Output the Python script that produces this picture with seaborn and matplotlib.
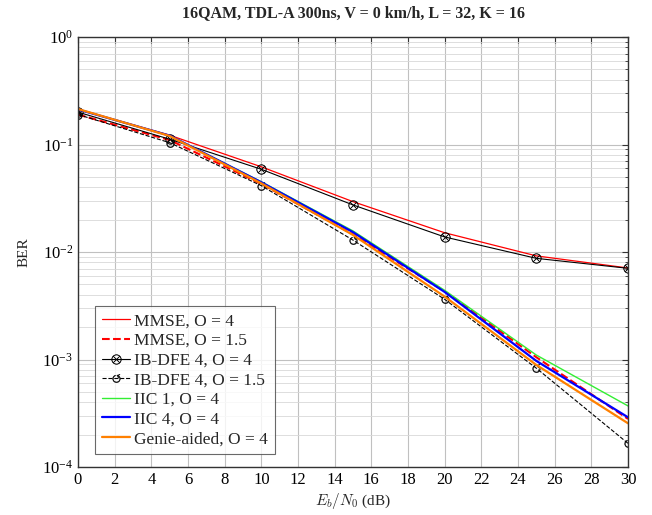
import matplotlib
matplotlib.use("Agg")
import matplotlib.pyplot as plt
import seaborn as sns
import numpy as np
from matplotlib.ticker import LogLocator, MultipleLocator, NullFormatter

snr = [0, 5, 10, 15, 20, 25, 30]
mmse_o4 = [0.212, 0.122, 0.062, 0.0294, 0.0151, 0.0092, 0.0071]
mmse_o15 = [0.19, 0.110, 0.043, 0.0146, 0.0043, 0.00105, 0.00028]
ibdfe_o4 = [0.200, 0.112, 0.0588, 0.0274, 0.0138, 0.00873, 0.00705]
ibdfe_o15 = [0.190, 0.104, 0.0414, 0.0129, 0.00363, 0.00083, 0.000166]
iic1_o4 = [0.212, 0.121, 0.0450, 0.0157, 0.0044, 0.00110, 0.00037]
iic4_o4 = [0.212, 0.121, 0.0445, 0.0153, 0.00425, 0.00097, 0.00029]
genie_o4 = [0.214, 0.120, 0.0435, 0.0144, 0.00385, 0.00089, 0.000255]

labels = ["MMSE, O = 4", "MMSE, O = 1.5", "IB-DFE 4, O = 4", "IB-DFE 4, O = 1.5",
          "IIC 1, O = 4", "IIC 4, O = 4", "Genie-aided, O = 4"]
title = "16QAM, TDL-A 300ns, V = 0 km/h, L = 32, K = 16"

sns.set_style("white")
plt.rcParams['font.family'] = ['Liberation Serif', 'DejaVu Serif']
plt.rcParams['mathtext.fontset'] = 'cm'

fig = plt.figure(figsize=(6.52, 5.15), dpi=100)
ax = fig.add_axes([78/652, 1 - 467/515, 550/652, 430/515])

styles = [
    dict(y=mmse_o4, color='#ff0000', linestyle='-', linewidth=0.9, marker=None),
    dict(y=mmse_o15, color='#ff0000', linestyle='--', linewidth=1.5, marker=None),
    dict(y=ibdfe_o4, color='black', linestyle='-', linewidth=0.8, marker=r'$\otimes$', markersize=7),
    dict(y=ibdfe_o15, color='black', linestyle='--', linewidth=0.8, marker=r'$\circlearrowleft$', markersize=6),
    dict(y=iic1_o4, color='#33ee33', linestyle='-', linewidth=1.0, marker=None),
    dict(y=iic4_o4, color='#0000ff', linestyle='-', linewidth=1.6, marker=None),
    dict(y=genie_o4, color='#ff8000', linestyle='-', linewidth=1.6, marker=None),
]

for lab, st in zip(labels, styles):
    kw = dict(color=st['color'], linestyle=st['linestyle'], linewidth=st['linewidth'])
    if st['marker'] is not None:
        kw['marker'] = st['marker']
        kw['markersize'] = st['markersize']
        kw['markeredgewidth'] = 0.3
        kw['markeredgecolor'] = 'black'
        kw['markerfacecolor'] = 'black'
    sns.lineplot(x=snr, y=st['y'], ax=ax, label=lab, **kw)

ax.set_yscale('log')
ax.set_xlim(0, 30)
ax.set_ylim(1e-4, 1)
ax.xaxis.set_major_locator(MultipleLocator(2))
ax.yaxis.set_major_locator(LogLocator(base=10, numticks=10))
ax.yaxis.set_minor_locator(LogLocator(base=10, subs=np.arange(2, 10), numticks=20))
ax.yaxis.set_minor_formatter(NullFormatter())
ax.grid(True, which='major', color='#c0c0c0', linewidth=0.8)
ax.grid(True, which='minor', axis='y', color='#d8d8d8', linewidth=0.6)
ax.tick_params(axis='both', which='both', direction='in', top=True, right=True,
               labelsize=12, colors='#333333', labelcolor='black')
ax.tick_params(which='major', length=4)
ax.tick_params(which='minor', length=2)
for s in ax.spines.values():
    s.set_color('#333333')
    s.set_linewidth(1.0)
ax.set_axisbelow(True)

ax.set_xlabel(r'$E_b/N_0$ (dB)', fontsize=11, labelpad=2)
ax.set_ylabel('BER', fontsize=11, labelpad=8)
ax.set_title(title, fontsize=11.5, fontweight='bold', pad=14)

leg = ax.legend(loc='lower left', bbox_to_anchor=(0.031, 0.03), borderaxespad=0,
                fontsize=12.5, frameon=True, fancybox=False, edgecolor='#444444',
                handlelength=1.6, labelspacing=0.2, borderpad=0.4, handletextpad=0.25)
leg.get_frame().set_linewidth(0.8)

fig.savefig('out.png', dpi=100)
